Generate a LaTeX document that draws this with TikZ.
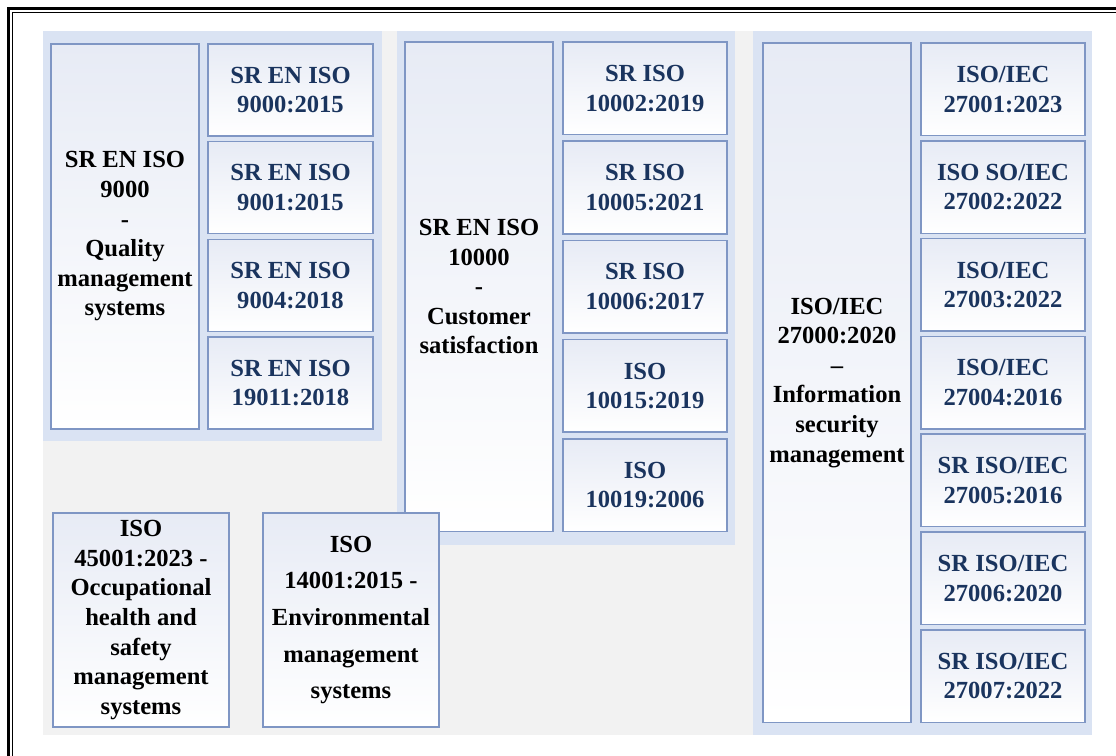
\documentclass[tikz,border=0pt]{standalone}
\usepackage{fontspec}
\setmainfont{Liberation Serif}
\definecolor{pagegray}{HTML}{F2F2F2}
\definecolor{grpblue}{HTML}{DAE3F3}
\definecolor{edgeblue}{HTML}{7F96C4}
\definecolor{boxtint}{HTML}{E7EBF5}
\definecolor{navy}{HTML}{1A345E}

\tikzset{
  panel/.style={fill=grpblue, draw=none},
  card/.style={draw=edgeblue, line width=0.75pt, top color=boxtint, bottom color=white,
               inner sep=0pt, outer sep=0pt, align=center,
               font=\bfseries\fontsize{12.3}{14.8}\selectfont},
  headcard/.style={card, text=black},
  subcard/.style={card, text=navy},
  widecard/.style={headcard, font=\bfseries\fontsize{12.3}{18.3}\selectfont},
}

% name, x1, y1, x2, y2, style, text  (pixel units, y grows downwards)
\newcommand\placecard[7]{%
  \node[#6, minimum width={(#4-#2)*0.5pt}, minimum height={(#5-#3)*0.5pt}]
    (#1) at ({(#2+#4)/2},{(#3+#5)/2}) {#7};}

\begin{document}
\begin{tikzpicture}[x=0.5pt, y=-0.5pt]
\useasboundingbox (0,0) rectangle (1116,756);
\fill[white] (0,0) rectangle (1116,756);

% frame
\draw[line width=1.5pt] (8.5,756) -- (8.5,8.5) -- (1116,8.5);
\draw[line width=0.5pt] (12.5,756) -- (12.5,12.5) -- (1116,12.5);

% background sheet
\fill[pagegray] (43,31) rectangle (1092,735);

% group panels
\fill[panel] (43,31) rectangle (382,441);
\fill[panel] (397,31) rectangle (735,545);
\fill[panel] (753,31) rectangle (1092,735);

% quality management
\placecard{qms}{51}{44}{199}{429}{headcard}{SR EN ISO\\9000\\-\\Quality\\management\\systems}
\placecard{q1}{208}{44}{373}{136}{subcard}{SR EN ISO\\9000:2015}
\placecard{q2}{208}{141.7}{373}{233.7}{subcard}{SR EN ISO\\9001:2015}
\placecard{q3}{208}{239.4}{373}{331.4}{subcard}{SR EN ISO\\9004:2018}
\placecard{q4}{208}{337.1}{373}{429.1}{subcard}{SR EN ISO\\19011:2018}

% customer satisfaction
\placecard{cs}{405}{42}{553}{531.4}{headcard}{SR EN ISO\\10000\\-\\Customer\\satisfaction}
\placecard{c1}{563}{42}{727}{134.6}{subcard}{SR ISO\\10002:2019}
\placecard{c2}{563}{141.2}{727}{233.8}{subcard}{SR ISO\\10005:2021}
\placecard{c3}{563}{240.4}{727}{333}{subcard}{SR ISO\\10006:2017}
\placecard{c4}{563}{339.6}{727}{432.2}{subcard}{ISO\\10015:2019}
\placecard{c5}{563}{438.8}{727}{531.4}{subcard}{ISO\\10019:2006}

% information security
\placecard{ism}{763}{43}{911}{722.3}{headcard}{ISO/IEC\\27000:2020\\–\\Information\\security\\management}
\placecard{i1}{921}{43}{1085}{135.5}{subcard}{ISO/IEC\\27001:2023}
\placecard{i2}{921}{140.8}{1085}{233.3}{subcard}{ISO SO/IEC\\27002:2022}
\placecard{i3}{921}{238.6}{1085}{331.1}{subcard}{ISO/IEC\\27003:2022}
\placecard{i4}{921}{336.4}{1085}{428.9}{subcard}{ISO/IEC\\27004:2016}
\placecard{i5}{921}{434.2}{1085}{526.7}{subcard}{SR ISO/IEC\\27005:2016}
\placecard{i6}{921}{532}{1085}{624.5}{subcard}{SR ISO/IEC\\27006:2020}
\placecard{i7}{921}{629.8}{1085}{722.3}{subcard}{SR ISO/IEC\\27007:2022}

% stand-alone standards
\placecard{ohs}{53}{513}{229}{727}{headcard}{ISO\\45001:2023 -\\Occupational\\health and\\safety\\management\\systems}
\placecard{env}{263}{513}{439}{727}{widecard}{ISO\\14001:2015 -\\Environmental\\management\\systems}
\end{tikzpicture}
\end{document}
